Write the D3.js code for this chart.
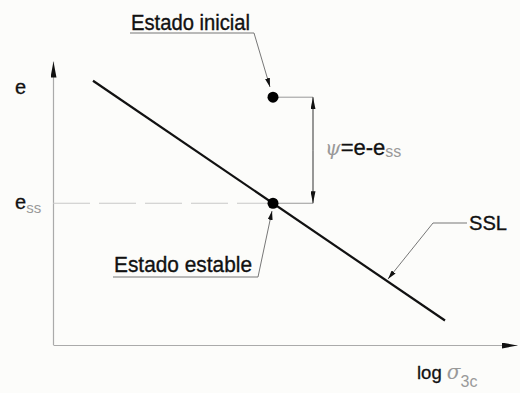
<!DOCTYPE html>
<html lang="es">
<head>
<meta charset="UTF-8">
<title>SSL</title>
<style>
  body { margin: 0; background: #fcfcfa; }
  text { font-family: "Liberation Sans", Arial, sans-serif; }
</style>
</head>
<body>
<script src="https://cdnjs.cloudflare.com/ajax/libs/d3/7.8.5/d3.min.js"></script>
<script>

// data (arbitrary units: log sigma_3c on x, void ratio e on y)
var sslLogSigma = [1.0, 9.8];
var sslE = [7.55, 0.7];
var stateNames = ["Estado inicial", "Estado estable"];
var stateLogSigma = [5.5, 5.5];
var stateE = [7.08, 4.05];
var axisMax = [11.6, 8.1];   // x, y extent of the axes

var width = 520, height = 393;

var svg = d3.select("body").append("svg")
    .attr("width", width)
    .attr("height", height)
    .style("background", "#fcfcfa");

// scales
var x = d3.scaleLinear().domain([0, 10]).range([53, 453]);
var y = d3.scaleLinear().domain([0, 8]).range([345, 65]);

// arrow heads
var defs = svg.append("defs");
function marker(id, len, wid) {
  defs.append("marker")
      .attr("id", id)
      .attr("markerUnits", "userSpaceOnUse")
      .attr("viewBox", "0 " + (-wid / 2) + " " + len + " " + wid)
      .attr("refX", len).attr("refY", 0)
      .attr("markerWidth", len).attr("markerHeight", wid)
      .attr("orient", "auto")
    .append("path")
      .attr("d", "M0," + (-wid / 2) + "L" + len + ",0L0," + (wid / 2) + "Z")
      .attr("fill", "#111");
}
marker("axarrow", 16, 6);
marker("dimarrow", 12, 5);
marker("leadarrow", 9, 5);

// axes
var xa = x.copy().domain([0, axisMax[0]]).range([53, x(axisMax[0])]);
var ya = y.copy().domain([0, axisMax[1]]).range([345, y(axisMax[1])]);

var gx = svg.append("g")
    .attr("transform", "translate(0," + y(0) + ")")
    .call(d3.axisBottom(xa).tickValues([]).tickSizeOuter(0));
gx.select(".domain").attr("stroke", "#aaa").attr("stroke-width", 1.2)
    .attr("marker-end", "url(#axarrow)");

var gy = svg.append("g")
    .attr("transform", "translate(" + x(0) + ",0)")
    .call(d3.axisLeft(ya).tickValues([]).tickSizeOuter(0));
gy.select(".domain").attr("stroke", "#aaa").attr("stroke-width", 1.2)
    .attr("d", "M0.5," + y(0) + "V" + ya(axisMax[1]))
    .attr("marker-end", "url(#axarrow)");

var x0 = stateLogSigma[0];
var px = x(x0), pyTop = y(stateE[0]), pyBot = y(stateE[1]);
var dimX = px + 40;

// dashed reference line at e_ss
svg.append("line")
    .attr("x1", x(0)).attr("x2", px)
    .attr("y1", pyBot).attr("y2", pyBot)
    .attr("stroke", "#c8c8c8").attr("stroke-width", 1.2)
    .attr("stroke-dasharray", "37,9");

// extension lines
svg.append("line").attr("x1", px).attr("x2", dimX).attr("y1", pyTop).attr("y2", pyTop)
    .attr("stroke", "#999").attr("stroke-width", 1);
svg.append("line").attr("x1", px).attr("x2", dimX).attr("y1", pyBot).attr("y2", pyBot)
    .attr("stroke", "#999").attr("stroke-width", 1);

// dimension line with two arrows
var midY = (pyTop + pyBot) / 2;
svg.append("line").attr("x1", dimX).attr("x2", dimX).attr("y1", midY).attr("y2", pyTop)
    .attr("stroke", "#333").attr("stroke-width", 1).attr("marker-end", "url(#dimarrow)");
svg.append("line").attr("x1", dimX).attr("x2", dimX).attr("y1", midY).attr("y2", pyBot)
    .attr("stroke", "#333").attr("stroke-width", 1).attr("marker-end", "url(#dimarrow)");

// steady state line
var ssl = sslLogSigma.map(function(d, i) { return [d, sslE[i]]; });
svg.append("path")
    .datum(ssl)
    .attr("d", d3.line().x(function(d) { return x(d[0]); }).y(function(d) { return y(d[1]); }))
    .attr("stroke", "#111").attr("stroke-width", 2.2).attr("fill", "none");

// state points
svg.selectAll(".state")
    .data(stateNames)
    .enter().append("circle")
    .attr("class", "state")
    .attr("cx", function(d, i) { return x(stateLogSigma[i]); })
    .attr("cy", function(d, i) { return y(stateE[i]); })
    .attr("r", 5.5)
    .attr("fill", "#000");

// leaders
function leader(pts) {
  svg.append("path")
      .attr("d", d3.line()(pts))
      .attr("fill", "none").attr("stroke", "#777").attr("stroke-width", 1)
      .attr("marker-end", "url(#leadarrow)");
}
leader([[130, 33], [254, 33], [270, 87]]);
leader([[113, 277], [258, 277], [272, 211]]);
leader([[467, 223], [433, 223], [388, 279]]);

// labels
function label(tx, ty, size, len, s) {
  return svg.append("text").attr("x", tx).attr("y", ty)
      .attr("font-size", size).attr("fill", "#111")
      .attr("stroke", "#111").attr("stroke-width", 0.35)
      .attr("textLength", len).attr("lengthAdjust", "spacingAndGlyphs")
      .text(s);
}
label(131, 30, 21.5, 119, stateNames[0]);
label(114, 272, 21.5, 138, stateNames[1]);
label(469, 230, 20.5, 38, "SSL");

// axis labels
svg.append("text").attr("x", 15).attr("y", 94)
    .attr("font-size", 20).attr("fill", "#111")
    .attr("stroke", "#111").attr("stroke-width", 0.3).text("e");

var ess = svg.append("text").attr("x", 15).attr("y", 209).attr("font-size", 20).attr("fill", "#111");
ess.append("tspan").attr("stroke", "#111").attr("stroke-width", 0.3).text("e");
ess.append("tspan").attr("font-size", 15).attr("dy", 4).attr("fill", "#999").text("ss");

var psi = svg.append("text").attr("x", 325).attr("y", 155).attr("font-size", 22).attr("fill", "#111");
psi.append("tspan").attr("fill", "#999").attr("font-style", "italic")
    .attr("font-family", "DejaVu Serif").attr("font-size", 20).text("ψ");
psi.append("tspan").attr("stroke", "#111").attr("stroke-width", 0.3).text("=e-e");
psi.append("tspan").attr("font-size", 16).attr("dy", 2).attr("fill", "#999").text("ss");

var lg = svg.append("text").attr("x", 417).attr("y", 379).attr("font-size", 18.5).attr("fill", "#111");
lg.append("tspan").attr("stroke", "#111").attr("stroke-width", 0.3).text("log ");
lg.append("tspan").attr("fill", "#999").attr("font-style", "italic")
    .attr("font-family", "DejaVu Serif").attr("font-size", 20).text("σ");
lg.append("tspan").attr("fill", "#999").attr("font-size", 16).attr("dy", 8).text("3c");

</script>
</body>
</html>
